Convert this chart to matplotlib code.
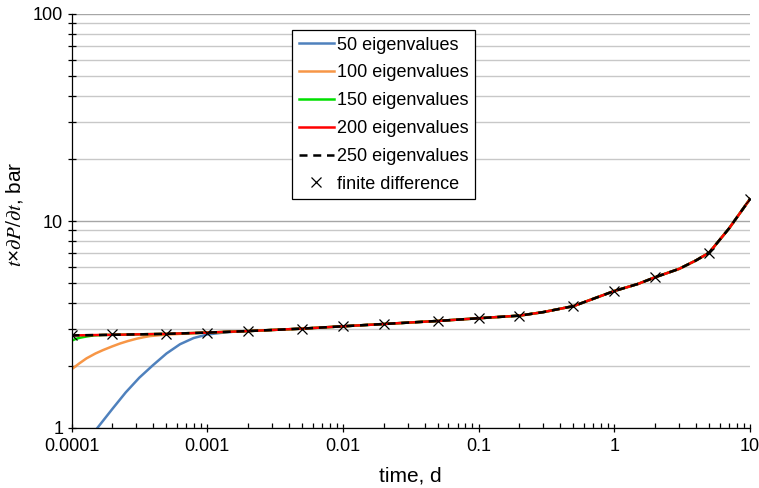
import matplotlib
matplotlib.use("Agg")
import matplotlib.pyplot as plt
from matplotlib.ticker import LogLocator, NullFormatter, FixedLocator, FixedFormatter

plt.rcParams['font.family'] = ['Liberation Sans', 'DejaVu Sans']
plt.rcParams['mathtext.fontset'] = 'stix'

# converged response (200 / 250 eigenvalues)
t_conv = [1e-4, 2e-4, 5e-4, 1e-3, 2e-3, 5e-3, 0.01, 0.02, 0.05, 0.1, 0.2, 0.3,
          0.5, 0.7, 1.0, 1.5, 2.0, 3.0, 4.0, 5.0, 7.0, 10.0]
y_conv = [2.80, 2.82, 2.85, 2.89, 2.94, 3.02, 3.10, 3.18, 3.29, 3.39, 3.49, 3.63,
          3.88, 4.21, 4.59, 4.97, 5.35, 5.87, 6.45, 7.03, 9.2, 12.77]

# early-time departures
t_50 = [1.55e-4, 2.0e-4, 2.51e-4, 3.16e-4, 3.98e-4, 5.01e-4, 6.31e-4, 7.94e-4,
        1e-3, 1.26e-3, 1.58e-3]
y_50 = [1.00, 1.236, 1.486, 1.75, 2.01, 2.29, 2.54, 2.72, 2.83, 2.88, 2.92]
t_100 = [1e-4, 1.14e-4, 1.29e-4, 1.5e-4, 1.71e-4, 2.0e-4, 2.28e-4, 2.6e-4,
         3.02e-4, 3.4e-4, 3.79e-4, 4.5e-4, 5.5e-4, 7e-4]
y_100 = [1.92, 2.05, 2.17, 2.29, 2.38, 2.48, 2.56, 2.63, 2.70, 2.745, 2.78,
         2.81, 2.835, 2.86]
t_150 = [1e-4, 1.07e-4, 1.155e-4, 1.3e-4, 1.45e-4, 1.7e-4]
y_150 = [2.64, 2.69, 2.73, 2.77, 2.80, 2.815]

# finite-difference points
t_fd = [1e-4, 2e-4, 5e-4, 1e-3, 2e-3, 5e-3, 0.01, 0.02, 0.05, 0.1, 0.2, 0.5,
        1.0, 2.0, 5.0, 10.0]
y_fd = [2.81, 2.83, 2.85, 2.89, 2.94, 3.02, 3.10, 3.18, 3.29, 3.39, 3.49, 3.88,
        4.59, 5.35, 7.03, 12.77]

labels = ['50 eigenvalues', '100 eigenvalues', '150 eigenvalues',
          '200 eigenvalues', '250 eigenvalues', 'finite difference']
x_ticks = [1e-4, 1e-3, 1e-2, 0.1, 1, 10]
x_ticklabels = ['0.0001', '0.001', '0.01', '0.1', '1', '10']
y_ticks = [1, 10, 100]
y_ticklabels = ['1', '10', '100']


def tail(t_start):
    return ([t for t in t_conv if t > t_start], [y for t, y in zip(t_conv, y_conv) if t > t_start])


fig = plt.figure(figsize=(7.59, 4.88), dpi=100)
ax = fig.add_axes([71.5/759, 1-428/488, (750-71.5)/759, (428-14)/488])

LW = 1.8
tt, yy = tail(t_50[-1])
ax.plot(t_50 + tt, y_50 + yy, color='#4F81BD', lw=LW, label=labels[0])
tt, yy = tail(t_100[-1])
ax.plot(t_100 + tt, y_100 + yy, color='#F79646', lw=LW, label=labels[1])
tt, yy = tail(t_150[-1])
ax.plot(t_150 + tt, y_150 + yy, color='#00E000', lw=LW, label=labels[2])
ax.plot(t_conv, y_conv, color='#FF0000', lw=LW, label=labels[3])
ax.plot(t_conv, y_conv, color='black', lw=LW, dashes=(3.2, 2.3), label=labels[4])
ax.plot(t_fd, y_fd, ls='none', marker='x', ms=7.5, mew=0.9, color='black', label=labels[5])

ax.set_xscale('log')
ax.set_yscale('log')
ax.set_xlim(1e-4, 10)
ax.set_ylim(1, 100)

ax.xaxis.set_major_locator(FixedLocator(x_ticks))
ax.xaxis.set_major_formatter(FixedFormatter(x_ticklabels))
ax.xaxis.set_minor_locator(LogLocator(base=10, subs=range(2, 10), numticks=20))
ax.xaxis.set_minor_formatter(NullFormatter())
ax.yaxis.set_major_locator(FixedLocator(y_ticks))
ax.yaxis.set_major_formatter(FixedFormatter(y_ticklabels))
ax.yaxis.set_minor_locator(LogLocator(base=10, subs=range(2, 10), numticks=20))
ax.yaxis.set_minor_formatter(NullFormatter())

ax.yaxis.grid(True, which='major', color='#a6a6a6', lw=1.0)
ax.yaxis.grid(True, which='minor', color='#c8c8c8', lw=1.0)
ax.xaxis.grid(False)
ax.set_axisbelow(True)

for s in ['top', 'right']:
    ax.spines[s].set_visible(False)
for s in ['left', 'bottom']:
    ax.spines[s].set_color('black')
    ax.spines[s].set_linewidth(0.9)

ax.tick_params(axis='y', which='both', direction='inout', length=6, width=0.9,
               labelsize=13, colors='black', pad=3)
ax.tick_params(axis='x', which='major', direction='inout', length=6, width=0.9,
               labelsize=13, pad=4.5)
ax.tick_params(axis='x', which='minor', direction='in', length=3.5, width=0.9)

ax.set_xlabel('time, d', fontsize=15, labelpad=8)
ax.set_ylabel(r'$t$×$\partial P/\partial t$, bar', fontsize=15, labelpad=8)
ax.yaxis.set_label_coords(-0.069, 0.515)

leg = ax.legend(loc='upper left', bbox_to_anchor=(292/759, 1-30/488),
                bbox_transform=fig.transFigure, fontsize=13, frameon=True,
                fancybox=False, edgecolor='black', framealpha=1,
                handlelength=1.95, handletextpad=0.2, labelspacing=0.6,
                borderpad=0.36, borderaxespad=0)
leg.get_frame().set_linewidth(0.9)

fig.savefig('out.png', dpi=100)
